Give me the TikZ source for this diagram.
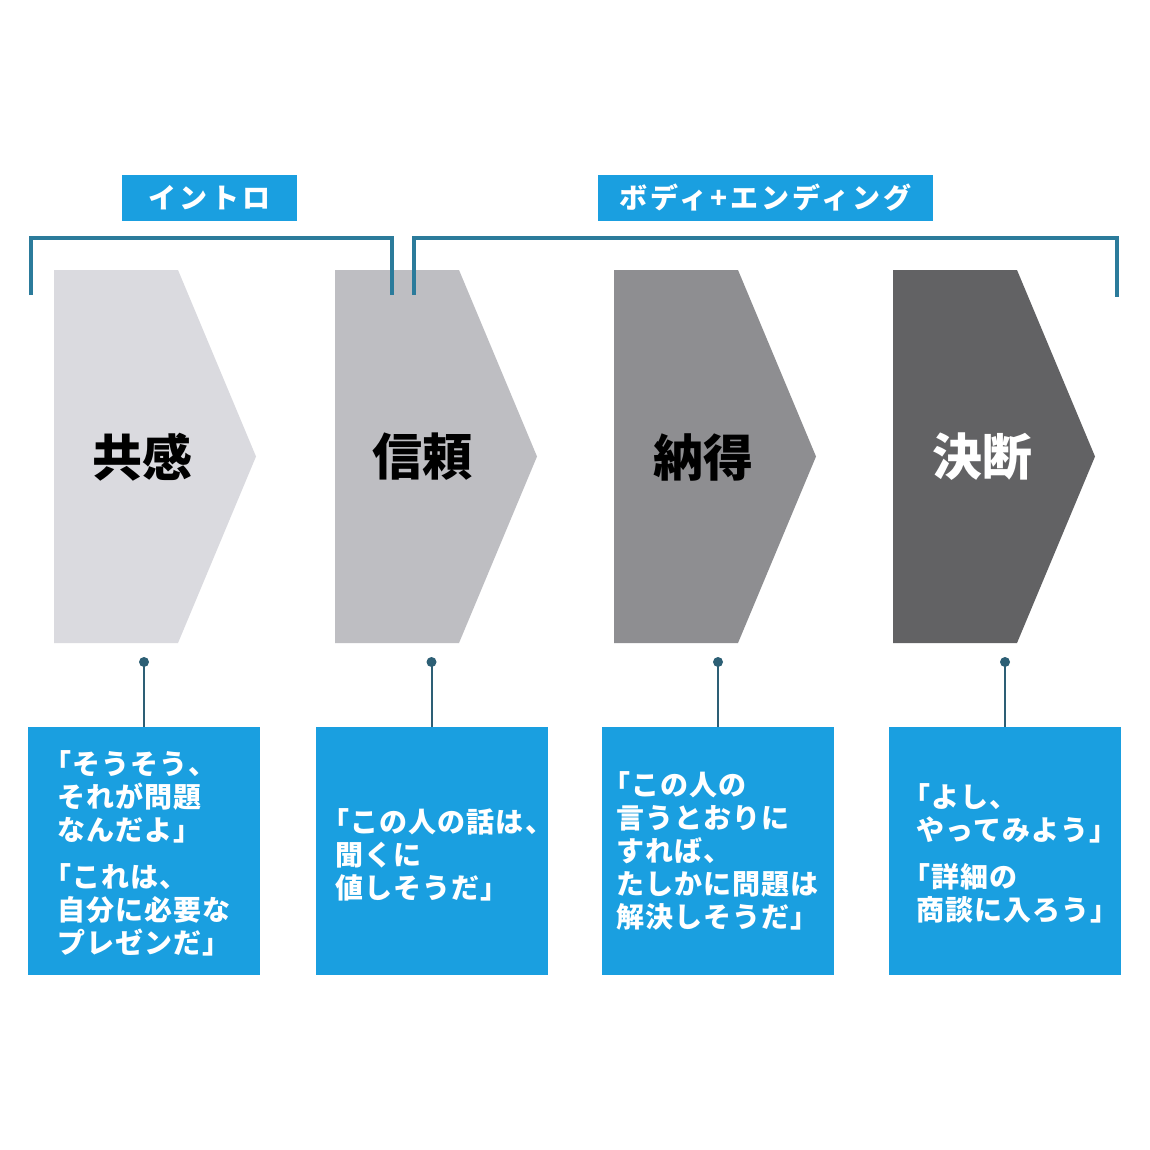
\documentclass[tikz,border=0pt]{standalone}
\usepackage{fontspec}
\setmainfont{Noto Sans CJK JP}
\newfontfamily\jp{Noto Sans CJK JP}
\definecolor{chevA}{HTML}{DADADF}
\definecolor{chevB}{HTML}{BEBEC2}
\definecolor{chevC}{HTML}{8E8E91}
\definecolor{chevD}{HTML}{626264}
\definecolor{bluebox}{HTML}{1A9FE0}
\definecolor{bracketcol}{HTML}{2B7B9B}
\definecolor{dotcol}{HTML}{2D5F75}
\newcommand{\oq}{\kern-0.5em「}
\tikzset{
  chevlabel/.style={font=\jp\bfseries\fontsize{50}{56}\selectfont, inner sep=0pt},
  quotebox/.style={fill=bluebox, minimum width=232pt, minimum height=248pt, inner sep=0pt},
  quotetext/.style={text=white, align=left, anchor=west, font=\jp\bfseries\fontsize{28}{33}\selectfont\addfontfeature{LetterSpace=4}, inner sep=0pt},
  tagbox/.style={fill=bluebox, text=white, minimum height=46pt, inner sep=0pt, font=\jp\bfseries\fontsize{28}{32}\selectfont\addfontfeature{LetterSpace=11}},
  bracketline/.style={draw=bracketcol, line width=4pt},
  stemline/.style={draw=dotcol, line width=2pt},
  dotmark/.style={fill=dotcol}
}
\newcommand{\chevronshape}[2]{%
  \fill[#2] (#1,270) -- ({#1+124},270) -- ({#1+202},456.5) -- ({#1+124},643) -- (#1,643) -- cycle;}
\begin{document}
\begin{tikzpicture}[x=1pt,y=-1pt]
\useasboundingbox (0,0) rectangle (1150,1150);
\fill[white] (0,0) rectangle (1150,1150);

% tags
\node[tagbox, minimum width=175pt] (tagintro) at (209.5,198) {イントロ};
\node[tagbox, minimum width=335pt] (tagbody) at (765.5,198) {ボディ+エンディング};

% brackets
\coordinate (i1) at (31,295);
\coordinate (i2) at (392,295);
\coordinate (e1) at (414,295);
\coordinate (e2) at (1117,297);
\draw[bracketline] (i1) -- (31,238) -- (392,238) -- (i2);
\draw[bracketline] (e1) -- (414,238) -- (1117,238) -- (e2);

% chevrons
\chevronshape{54}{chevA}
\chevronshape{335}{chevB}
\chevronshape{614}{chevC}
\chevronshape{893}{chevD}
\draw[bracketline] (392,270) -- (i2);
\draw[bracketline] (414,270) -- (e1);

\node[chevlabel, text=black] (c1) at (142,457) {共感};
\node[chevlabel, text=black] (c2) at (422,457) {信頼};
\node[chevlabel, text=black] (c3) at (703,457) {納得};
\node[chevlabel, text=white] (c4) at (982,457) {決断};

% quote boxes
\node[quotebox] (b1) at (144,851) {};
\node[quotebox] (b2) at (431.5,851) {};
\node[quotebox] (b3) at (718,851) {};
\node[quotebox] (b4) at (1005,851) {};

\node[quotetext] (t1) at (57,853) {\oq そうそう、\\それが問題\\なんだよ」\\[14pt]\oq これは、\\自分に必要な\\プレゼンだ」};
\node[quotetext] (t2) at (335,855) {\oq この人の話は、\\聞くに\\値しそうだ」};
\node[quotetext] (t3) at (616,851) {\oq この人の\\言うとおりに\\すれば、\\たしかに問題は\\解決しそうだ」};
\node[quotetext] (t4) at (916,853) {\oq よし、\\やってみよう」\\[14pt]\oq 詳細の\\商談に入ろう」};

% stems with dots
\coordinate (d1) at (144,662);
\coordinate (d2) at (431.5,662);
\coordinate (d3) at (718,662);
\coordinate (d4) at (1005,662);
\foreach \d/\b in {d1/b1,d2/b2,d3/b3,d4/b4}{
  \draw[stemline] (\d) -- (\d |- \b.north);
  \fill[dotmark] (\d) circle (5pt);
}
\end{tikzpicture}
\end{document}
